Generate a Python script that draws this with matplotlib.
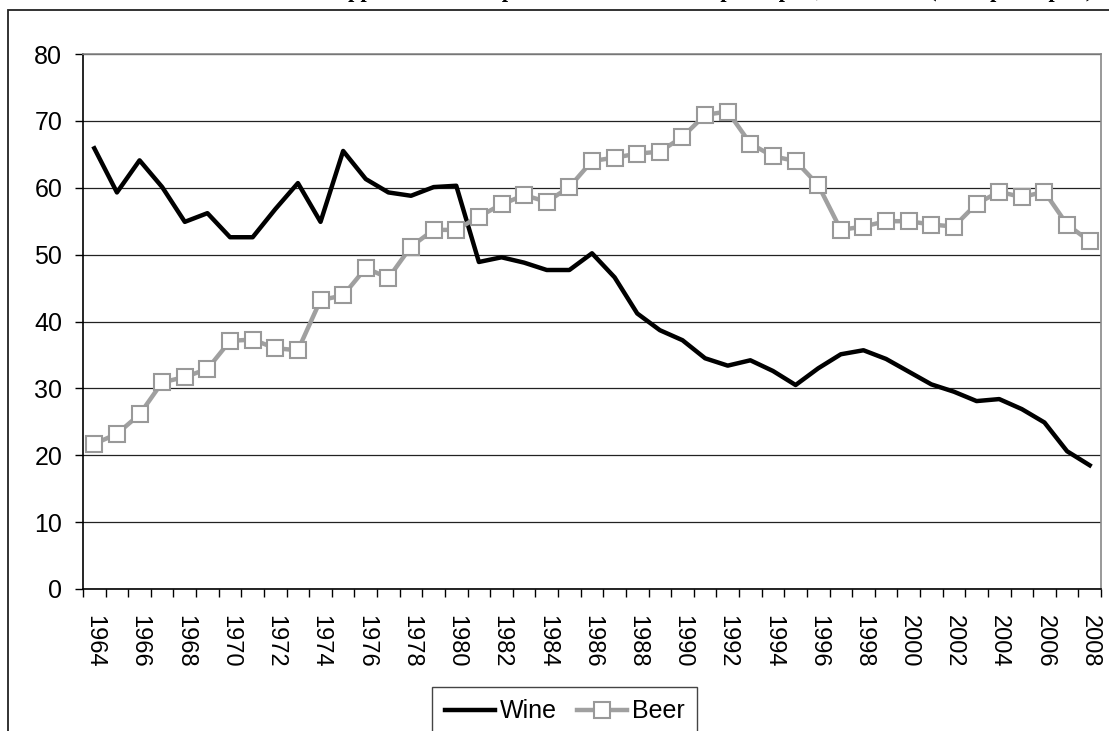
import numpy as np
import matplotlib
matplotlib.use("Agg")
import matplotlib.pyplot as plt
from matplotlib.patches import Rectangle

plt.rcParams['font.family'] = ['Liberation Sans', 'DejaVu Sans']

# data (per capita)
years = list(range(1964, 2009))
wine = [65.9, 59.3, 64.1, 60.1, 54.9, 56.2, 52.6, 52.6, 56.8, 60.7,
        54.9, 65.5, 61.3, 59.3, 58.8, 60.1, 60.3, 48.9, 49.6, 48.8,
        47.7, 47.7, 50.2, 46.6, 41.2, 38.7, 37.2, 34.5, 33.4, 34.2,
        32.6, 30.5, 33.0, 35.1, 35.7, 34.4, 32.5, 30.6, 29.5, 28.1,
        28.4, 26.9, 24.9, 20.6, 18.5]
beer = [21.7, 23.2, 26.1, 30.9, 31.7, 32.9, 37.1, 37.3, 36.0, 35.7,
        43.2, 43.9, 48.0, 46.5, 51.2, 53.7, 53.7, 55.7, 57.5, 58.9,
        57.9, 60.1, 64.0, 64.5, 65.1, 65.4, 67.6, 70.9, 71.4, 66.6,
        64.7, 64.0, 60.4, 53.7, 54.2, 55.0, 55.0, 54.5, 54.2, 57.6,
        59.4, 58.6, 59.4, 54.5, 52.0]
title = "Apparent consumption of wine and beer per capita, 1964-2008 (litres per capita)"

x = np.arange(len(years))

fig = plt.figure(figsize=(11.09, 7.31), dpi=100)
ax = fig.add_axes([83/1109, 1-589/731, (1101-83)/1109, (589-54)/731])

# chart border (mostly off the canvas) and clipped title
fig.patches.append(Rectangle((8/1109, -0.2), 1.5, 0.2 + 1 - 10/731,
                             transform=fig.transFigure, fill=False,
                             ec='#222222', lw=1.3))
fig.text(1093/1109, 1 + 3/731, title, ha='right', va='baseline',
         family='Liberation Serif', weight='bold', fontsize=16)

ax.plot(x, wine, color='black', lw=3.2, label='Wine', zorder=3)
ax.plot(x, beer, color='#A0A0A0', lw=3.2, marker='s', markersize=11,
        markerfacecolor='white', markeredgecolor='#999999',
        markeredgewidth=1.5, label='Beer', zorder=4)

ax.set_ylim(0, 80)
ax.set_xlim(-0.5, len(years) - 0.5)
ax.set_yticks(range(0, 81, 10))
ax.yaxis.grid(True, color='#222222', lw=0.9)
ax.set_axisbelow(True)

ax.set_xticks(np.arange(-0.5, len(years)), labels=[])
ax.set_xticks(x[::2], labels=[str(y) for y in years[::2]], minor=True)
ax.tick_params(axis='x', which='major', direction='out', length=6, width=1)
ax.tick_params(axis='x', which='minor', length=0, pad=19, labelsize=17,
               labelrotation=270)
ax.tick_params(axis='y', direction='out', length=6, width=1, pad=9,
               labelsize=18)

for s in ['left', 'bottom']:
    ax.spines[s].set_color('black')
    ax.spines[s].set_linewidth(1.2)
for s in ['top', 'right']:
    ax.spines[s].set_color('#888888')
    ax.spines[s].set_linewidth(1.2)

leg = ax.legend(loc='upper center', bbox_to_anchor=(564.5/1109, 1-687/731),
                bbox_transform=fig.transFigure, ncol=2, fontsize=18,
                frameon=True, fancybox=False, framealpha=1, edgecolor='#444444',
                handlelength=2.0, handletextpad=0.2, columnspacing=0.8,
                borderpad=0.5, borderaxespad=0)
leg.get_frame().set_linewidth(1.0)

fig.savefig('out.png', dpi=100)
